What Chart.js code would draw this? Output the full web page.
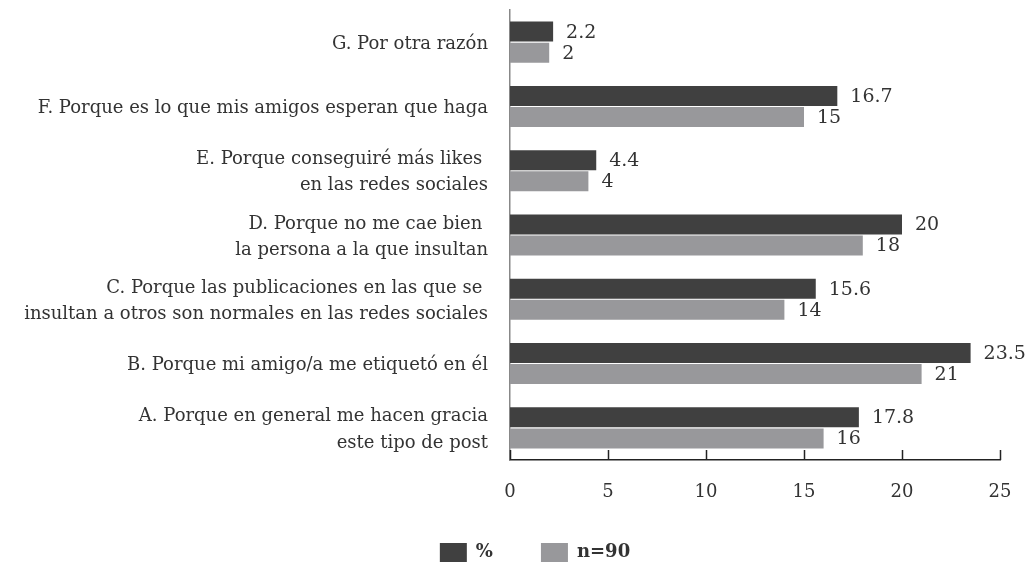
<!DOCTYPE html>
<html>
<head>
<meta charset="utf-8">
<script src="https://cdn.jsdelivr.net/npm/chart.js@4.4.1/dist/chart.umd.min.js"></script>
<style>
  html, body { margin: 0; padding: 0; background: #fff; }
  #wrap { width: 1025px; height: 566px; position: relative; }
</style>
</head>
<body>
<div id="wrap"><canvas id="grafico"></canvas></div>
<script>
const categorias = [
    "G. Por otra razón",
    "F. Porque es lo que mis amigos esperan que haga",
    ["E. Porque conseguiré más likes ", "en las redes sociales"],
    ["D. Porque no me cae bien ", "la persona a la que insultan"],
    ["C. Porque las publicaciones en las que se ", "insultan a otros son normales en las redes sociales"],
    "B. Porque mi amigo/a me etiquetó en él",
    ["A. Porque en general me hacen gracia", "este tipo de post"]
];
const porcentaje = [2.2, 16.7, 4.4, 20, 15.6, 23.5, 17.8];
const numero = [2, 15, 4, 18, 14, 21, 16];
const ticksX = [0, 5, 10, 15, 20, 25];

const fuente = "'DejaVu Serif', 'Liberation Serif', serif";
const colorTexto = '#333333';

// etiquetas de valor a la derecha de cada barra
const etiquetasValor = {
    id: 'etiquetasValor',
    afterDatasetsDraw(chart) {
        const ctx = chart.ctx;
        ctx.save();
        ctx.font = "19px " + fuente;
        ctx.fillStyle = colorTexto;
        ctx.textAlign = 'left';
        ctx.textBaseline = 'middle';
        chart.data.datasets.forEach((ds, i) => {
            chart.getDatasetMeta(i).data.forEach((bar, j) => {
                ctx.fillText(String(ds.data[j]), bar.x + 13, bar.y + 1);
            });
        });
        ctx.restore();
    }
};

// marcas del eje x hacia arriba
const marcasX = {
    id: 'marcasX',
    afterDraw(chart) {
        const ctx = chart.ctx;
        const escala = chart.scales.x;
        const y0 = chart.chartArea.bottom;
        ctx.save();
        ctx.strokeStyle = '#222';
        ctx.lineWidth = 1.5;
        ticksX.forEach(v => {
            const x = Math.round(escala.getPixelForValue(v)) + 0.5;
            ctx.beginPath();
            ctx.moveTo(x, y0);
            ctx.lineTo(x, y0 - 10);
            ctx.stroke();
        });
        ctx.restore();
    }
};

// la leyenda va un poco a la derecha del centro
const moverLeyenda = {
    id: 'moverLeyenda',
    afterLayout(chart) {
        const lg = chart.legend;
        lg.left += 35;
        lg.right += 35;
        lg.top -= 6;
        lg.bottom -= 6;
    }
};

new Chart(document.getElementById('grafico').getContext('2d'), {
    type: 'bar',
    data: {
        labels: categorias,
        datasets: [
            { label: '%', data: porcentaje, backgroundColor: '#404040', categoryPercentage: 0.655, barPercentage: 0.95 },
            { label: 'n=90', data: numero, backgroundColor: '#98989b', categoryPercentage: 0.655, barPercentage: 0.95 }
        ]
    },
    options: {
        indexAxis: 'y',
        responsive: true,
        maintainAspectRatio: false,
        animation: false,
        layout: { padding: { left: 0, right: 25, top: 10, bottom: -12 } },
        scales: {
            x: {
                min: 0, max: 25,
                grid: { display: false, drawTicks: false },
                border: { display: true, color: '#222', width: 1.5 },
                ticks: { stepSize: 5, padding: 22, color: colorTexto, font: { family: fuente, size: 18 } },
                afterFit(s) { s.height = 41; s.paddingLeft = 0; s.paddingRight = 0; }
            },
            y: {
                grid: { display: false, drawTicks: false },
                border: { display: true, color: '#888', width: 1.5 },
                ticks: { padding: 22, labelOffset: 2, color: colorTexto, font: { family: fuente, size: 18, lineHeight: 1.45 } },
                afterFit(s) { s.width = 510; s.paddingTop = 0; s.paddingBottom = 0; }
            }
        },
        plugins: {
            legend: {
                position: 'bottom',
                labels: {
                    boxWidth: 27, boxHeight: 19, padding: 48,
                    color: colorTexto,
                    font: { family: fuente, size: 18, weight: 'bold' }
                }
            },
            tooltip: { enabled: false }
        }
    },
    plugins: [etiquetasValor, marcasX, moverLeyenda]
});
</script>
</body>
</html>
